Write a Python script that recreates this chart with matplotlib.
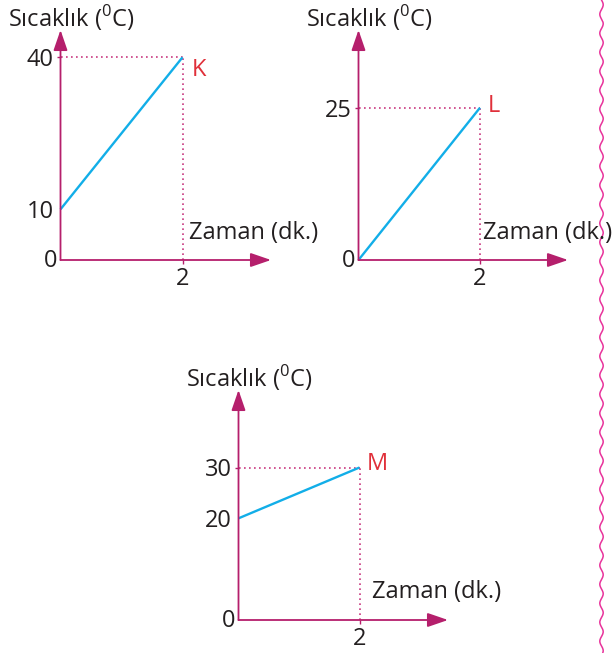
import numpy as np
import matplotlib.pyplot as plt
from matplotlib.lines import Line2D
from matplotlib.transforms import ScaledTranslation

plt.rcParams['font.family'] = ['Open Sans', 'DejaVu Sans']
plt.rcParams['mathtext.fontset'] = 'custom'
plt.rcParams['mathtext.rm'] = 'Open Sans'

# data
time = [0, 2]
temp_K = [10, 40]
temp_L = [0, 25]
temp_M = [20, 30]
names = ['K', 'L', 'M']
yticks_K = [0, 10, 40]
yticks_L = [0, 25]
yticks_M = [0, 20, 30]
xticks = [2]
ylabel = 'Sıcaklık ($^{\\mathregular{0}}$C)'
xlabel = 'Zaman (dk.)'

AX = '#b51f6c'
DOT = '#c8387f'
BLUE = '#12aee8'
RED = '#e0303a'
TXT = '#231f20'
FS = 17

W, H = 612, 653
fig = plt.figure(figsize=(W / 100, H / 100), dpi=100)


def panel(ox, oy, x_end, y_top, x2_px, yk_px, temps, yticks, name, lab_off):
    # axes placed in pixel terms, scaled so that ticks land where they are in the reference
    ax = fig.add_axes([ox / W, 1 - oy / H, (x_end - ox) / W, (oy - y_top) / H])
    xmax = time[1] * (x_end - ox) / (x2_px - ox)
    ymax = temps[1] * (oy - y_top) / (oy - yk_px)
    ax.set_xlim(0, xmax)
    ax.set_ylim(0, ymax)
    for s in ax.spines.values():
        s.set_visible(False)
    ax.patch.set_alpha(0)

    # axes with arrowheads
    for tip in [(xmax, 0), (0, ymax)]:
        ax.annotate('', xy=tip, xytext=(0, 0), annotation_clip=False,
                    arrowprops=dict(arrowstyle='-|>,head_length=1.25,head_width=0.43',
                                    mutation_scale=10, color=AX, lw=1.3,
                                    shrinkA=0, shrinkB=0))

    # dotted guides
    ax.plot([0, time[1]], [temps[1], temps[1]], color=DOT, lw=1.2,
            ls=(0, (1, 2)), clip_on=False)
    ax.plot([time[1], time[1]], [0, temps[1]], color=DOT, lw=1.2,
            ls=(0, (1, 2)), clip_on=False)

    ax.plot(time, temps, color=BLUE, lw=1.7, solid_capstyle='butt', clip_on=False)

    ax.set_xticks(xticks)
    ax.set_yticks(yticks)
    ax.tick_params(colors=AX, labelcolor=TXT, length=3, width=1, labelsize=FS, pad=2)
    for t, v in zip(ax.yaxis.get_major_ticks(), yticks):
        if v != temps[1]:
            t.tick1line.set_visible(False)
        if v == 0:
            # origin label sits closer to the corner
            lab = t.label1
            lab.set_transform(lab.get_transform() +
                              ScaledTranslation(4 / 100, 2 / 100, fig.dpi_scale_trans))

    ax.annotate(name, xy=(time[1], temps[1]), xytext=lab_off, textcoords='offset pixels',
                color=RED, fontsize=FS, ha='left', va='center', annotation_clip=False)
    return ax


panel(60.5, 260, 271, 30, 182.5, 57.3, temp_K, yticks_K, names[0], (9, -13))
panel(358.5, 260, 568, 30, 480, 107.7, temp_L, yticks_L, names[1], (8, 2))
panel(238.5, 620, 448, 390, 359.5, 467.5, temp_M, yticks_M, names[2], (7, 4))

# axis titles
for x, y in [(8, 18), (306, 18), (186, 378)]:
    fig.text(x / W, 1 - y / H, ylabel, fontsize=FS, color=TXT, ha='left', va='center')
for x, y in [(189, 233), (483, 233), (372, 592)]:
    fig.text(x / W, 1 - y / H, xlabel, fontsize=FS, color=TXT, ha='left', va='center')

# wavy margin line on the right
yy = np.linspace(0, H, 800)
xx = 601.5 + 1.7 * np.sin(2 * np.pi * yy / 19)
fig.add_artist(Line2D(xx / W, 1 - yy / H, color='#e8339b', lw=1.1,
                      transform=fig.transFigure))

fig.savefig('out.png', dpi=100)
